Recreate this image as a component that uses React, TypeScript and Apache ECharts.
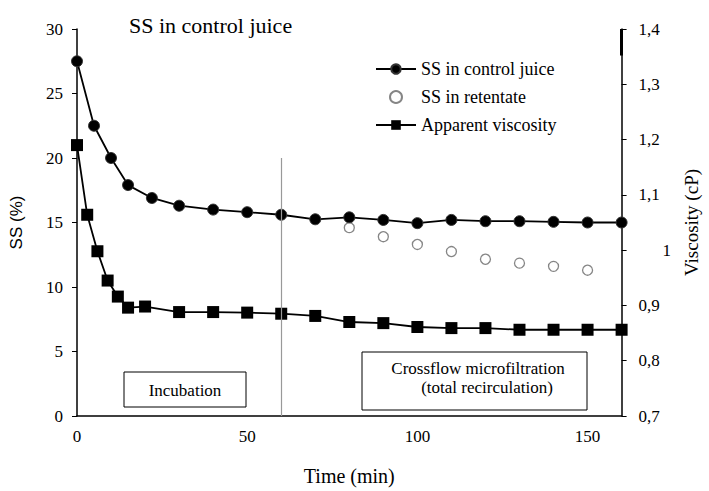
import React, { useEffect, useRef } from "react";
import * as echarts from "echarts";

const ssControlTime = [0, 5, 10, 15, 22, 30, 40, 50, 60, 70, 80, 90, 100, 110, 120, 130, 140, 150, 160];
const ssControl = [27.5, 22.5, 20.0, 17.9, 16.9, 16.3, 16.0, 15.8, 15.6, 15.25, 15.4, 15.2, 14.95, 15.2, 15.1, 15.1, 15.05, 15.0, 15.0];
const retentateTime = [80, 90, 100, 110, 120, 130, 140, 150];
const retentate = [14.6, 13.9, 13.3, 12.75, 12.15, 11.85, 11.6, 11.3];
const viscTime = [0, 3, 6, 9, 12, 15, 20, 30, 40, 50, 60, 70, 80, 90, 100, 110, 120, 130, 140, 150, 160];
const viscosity = [1.19, 1.064, 0.998, 0.945, 0.916, 0.896, 0.898, 0.888, 0.888, 0.887, 0.885, 0.881, 0.87, 0.868, 0.861, 0.859, 0.859, 0.856, 0.856, 0.856, 0.856];
const seriesNames = ["SS in control juice", "SS in retentate", "Apparent viscosity"];
const incubationLabel = "Incubation";
const crossflowLabel = ["Crossflow microfiltration", "(total recirculation)"];

const SERIF = "Liberation Serif";
const SANS = "Liberation Sans";

export default function App() {
  const ref = useRef<HTMLDivElement>(null);
  useEffect(() => {
    if (!ref.current) return;
    document.body.style.margin = "0";
    document.body.style.overflow = "hidden";
    const chart = echarts.init(ref.current, undefined, { renderer: "svg" });
    const pair = (t: number[], v: number[]) => t.map((x, i) => [x, v[i]]);
    const option: any = {
      animation: false,
      backgroundColor: "#fff",
      textStyle: { fontFamily: SERIF },
      title: {
        text: "SS in control juice",
        left: 129,
        top: 14,
        padding: 0,
        textStyle: { fontFamily: SERIF, fontWeight: "normal", fontSize: 22, color: "#000" },
      },
      legend: {
        orient: "vertical",
        left: 375,
        top: 60,
        padding: 0,
        itemGap: 10,
        itemWidth: 40,
        itemHeight: 12,
        data: seriesNames,
        textStyle: { fontFamily: SERIF, fontSize: 18, color: "#000" },
      },
      grid: { left: 76, right: 73, top: 29, bottom: 67, containLabel: false },
      xAxis: {
        type: "value",
        min: 0,
        max: 160,
        interval: 50,
        name: "Time (min)",
        nameLocation: "middle",
        nameGap: 50,
        nameTextStyle: { fontFamily: SERIF, fontSize: 20, color: "#000" },
        axisLine: { lineStyle: { color: "#000", width: 1.5 } },
        axisTick: { show: false },
        splitLine: { show: false },
        axisLabel: { showMaxLabel: false, margin: 12, fontFamily: SERIF, fontSize: 17, color: "#000" },
      },
      yAxis: [
        {
          type: "value",
          min: 0,
          max: 30,
          interval: 5,
          name: "SS (%)",
          nameLocation: "middle",
          nameGap: 52,
          nameTextStyle: { fontFamily: SANS, fontSize: 17, color: "#000" },
          axisLine: { show: true, lineStyle: { color: "#000", width: 1.5 } },
          axisTick: { show: true, length: 5, lineStyle: { color: "#000" } },
          splitLine: { show: false },
          axisLabel: { margin: 14, fontFamily: SERIF, fontSize: 17, color: "#000" },
        },
        {
          type: "value",
          min: 0.7,
          max: 1.4,
          interval: 0.1,
          position: "right",
          name: "Viscosity (cP)",
          nameLocation: "middle",
          nameGap: 57,
          nameRotate: 90,
          nameTextStyle: { fontFamily: SERIF, fontSize: 19, color: "#000" },
          axisLine: { show: true, lineStyle: { color: "#000", width: 1.5 } },
          axisTick: { show: true, length: 5, lineStyle: { color: "#000" } },
          splitLine: { show: false },
          axisLabel: {
            margin: 17,
            fontFamily: SERIF,
            fontSize: 17,
            color: "#000",
            formatter: (v: number) => {
              const r = Math.round(v * 10) / 10;
              if (Math.abs(r - 1) < 1e-6) return "{one|1}";
              return r.toFixed(1).replace(".", ",");
            },
            rich: { one: { padding: [0, 0, 0, 24], fontFamily: SERIF, fontSize: 17, color: "#000" } },
          },
        },
      ],
      series: [
        {
          name: seriesNames[0],
          type: "line",
          data: pair(ssControlTime, ssControl),
          symbol: "circle",
          symbolSize: 11,
          z: 3,
          itemStyle: { color: "#000", borderColor: "#333", borderWidth: 1 },
          lineStyle: { color: "#000", width: 1.8 },
        },
        {
          name: seriesNames[1],
          type: "scatter",
          data: pair(retentateTime, retentate),
          symbol: "circle",
          symbolSize: 10,
          z: 2,
          itemStyle: { color: "#fff", borderColor: "#666", borderWidth: 1.3 },
          markLine: {
            silent: true,
            symbol: "none",
            label: { show: false },
            lineStyle: { color: "#999", width: 1.2, type: "solid" },
            data: [[{ coord: [60, 0] }, { coord: [60, 20] }]],
          },
        },
        {
          name: seriesNames[2],
          type: "line",
          yAxisIndex: 1,
          data: pair(viscTime, viscosity),
          symbol: "rect",
          symbolSize: 12,
          z: 3,
          itemStyle: { color: "#000" },
          lineStyle: { color: "#000", width: 1.8 },
          markLine: {
            silent: true,
            symbol: "none",
            label: { show: false },
            lineStyle: { color: "#000", width: 3, type: "solid" },
            data: [[{ coord: [160, 1.4] }, { coord: [160, 1.352] }]],
          },
        },
      ],
      graphic: [
        {
          type: "rect",
          shape: { x: 124, y: 372, width: 122, height: 35 },
          style: { fill: "#fff", stroke: "#000", lineWidth: 1 },
          z: 10,
        },
        {
          type: "text",
          x: 185,
          y: 390,
          style: { text: incubationLabel, fontFamily: SERIF, fontSize: 17, fill: "#000", align: "center", verticalAlign: "middle" },
          z: 11,
        },
        {
          type: "rect",
          shape: { x: 362, y: 352, width: 225, height: 58 },
          style: { fill: "#fff", stroke: "#000", lineWidth: 1 },
          z: 10,
        },
        {
          type: "text",
          x: 478,
          y: 368,
          style: { text: crossflowLabel[0], fontFamily: SERIF, fontSize: 17, fill: "#000", align: "center", verticalAlign: "middle" },
          z: 11,
        },
        {
          type: "text",
          x: 487,
          y: 387,
          style: { text: crossflowLabel[1], fontFamily: SERIF, fontSize: 17, fill: "#000", align: "center", verticalAlign: "middle" },
          z: 11,
        },
      ],
    };
    chart.setOption(option);
    return () => chart.dispose();
  }, []);
  return <div ref={ref} style={{ position: "absolute", left: 0, top: 0, width: 709, height: 491 }} />;
}
